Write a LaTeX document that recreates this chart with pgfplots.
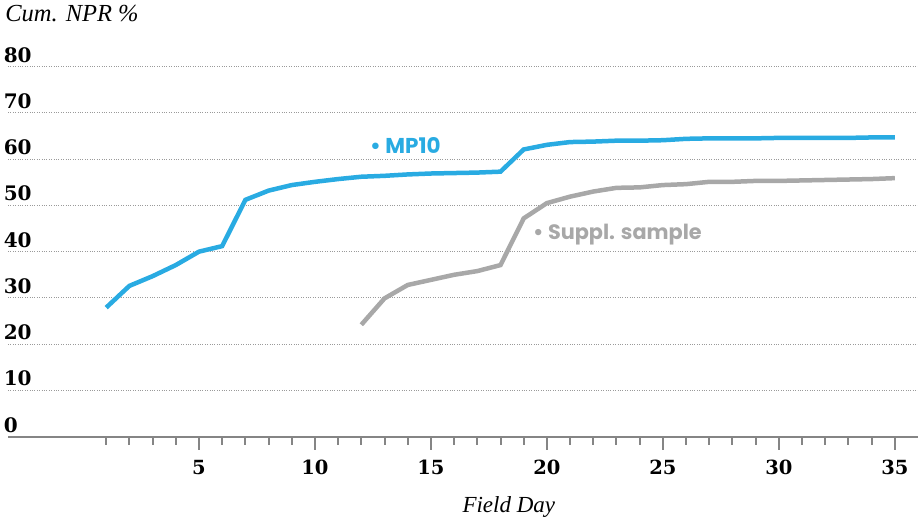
\documentclass[border=0pt]{standalone}
\usepackage{fontspec}
\setmainfont{Liberation Serif}
\newfontfamily\tickfont{DejaVu Serif}
\newfontfamily\labfont{Poppins}
\usepackage{pgfplots}
\pgfplotsset{compat=1.18}
\definecolor{mpblue}{HTML}{29ABE2}
\definecolor{supgray}{HTML}{A8A8A8}
\definecolor{axgray}{HTML}{858585}
\definecolor{gridgray}{HTML}{9A9A9A}

\begin{document}
\begin{tikzpicture}
\begin{axis}[
    scale only axis,
    width=910pt, height=370pt,
    xmin=-3.23, xmax=36.0,
    ymin=0, ymax=80,
    clip=false,
    axis x line=bottom, axis y line=left,
    axis line style={-},
    x axis line style={axgray, line width=2.2pt},
    y axis line style={draw=none},
    xtick={5,10,...,35},
    minor xtick={1,...,34},
    ytick={0,10,...,80},
    tick align=outside,
    major tick length=13pt, minor tick length=8pt,
    xtick style={axgray, line width=2pt},
    ytick style={draw=none},
    ymajorgrids,
    grid style={gridgray, dotted, line width=1pt},
    /pgf/number format/assume math mode=true,
    xticklabel style={font=\tickfont\bfseries\fontsize{19.5}{19.5}\selectfont, inner sep=0pt, anchor=north, yshift=-10pt},
    yticklabel style={font=\tickfont\bfseries\fontsize{20}{20}\selectfont, inner sep=0pt, anchor=south west, xshift=8.5pt, yshift=4pt},
]
% suppl. sample
\addplot[supgray, line width=4.5pt] coordinates {
    (12,24.2)(13,29.9)(14,32.8)(15,33.9)(16,35.0)(17,35.8)(18,37.1)(19,47.2)
    (20,50.5)(21,51.9)(22,53.0)(23,53.8)(24,53.9)(25,54.4)(26,54.6)(27,55.1)
    (28,55.1)(29,55.3)(30,55.3)(31,55.4)(32,55.5)(33,55.6)(34,55.7)(35,55.9)
};
% MP10
\addplot[mpblue, line width=4.5pt] coordinates {
    (1,27.9)(2,32.6)(3,34.7)(4,37.1)(5,40.0)(6,41.2)(7,51.2)(8,53.2)(9,54.4)
    (10,55.1)(11,55.7)(12,56.2)(13,56.4)(14,56.7)(15,56.9)(16,57.0)(17,57.1)
    (18,57.3)(19,62.1)(20,63.1)(21,63.7)(22,63.8)(23,64.0)(24,64.0)(25,64.1)
    (26,64.4)(27,64.5)(28,64.5)(29,64.5)(30,64.6)(31,64.6)(32,64.6)(33,64.6)
    (34,64.7)(35,64.7)
};
\node[anchor=base west, inner sep=0pt, mpblue, font=\labfont\bfseries\fontsize{21.5}{21.5}\selectfont]
    at (axis cs:12.37,61.3) {• MP10};
\node[anchor=base west, inner sep=0pt, supgray, font=\labfont\bfseries\fontsize{20.8}{20.8}\selectfont]
    at (axis cs:19.4,42.7) {• Suppl. sample};
\node[anchor=base west, inner sep=0pt, font=\itshape\fontsize{24.5}{24.5}\selectfont]
    at (axis cs:-3.36,89.7) {Cum. NPR \%};
\node[anchor=base, inner sep=0pt, font=\itshape\fontsize{23}{23}\selectfont]
    at (axis cs:18.36,-16.5) {Field Day};
\coordinate (bl) at (axis cs:-3.578,-18.23);
\coordinate (tr) at (axis cs:36.0,94.42);
\end{axis}
\pgfresetboundingbox
\path (bl) rectangle (tr);
\end{tikzpicture}
\end{document}
